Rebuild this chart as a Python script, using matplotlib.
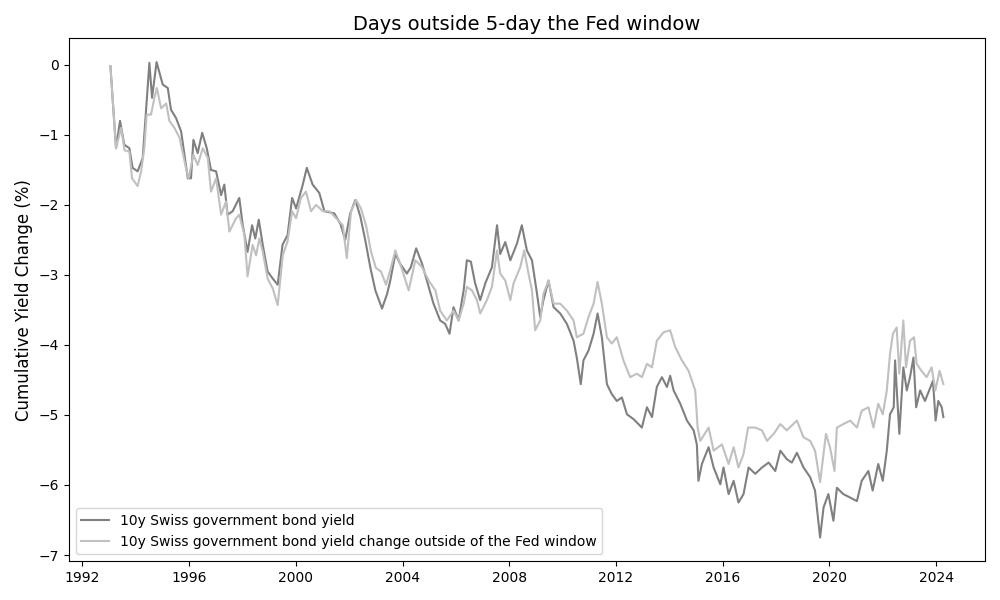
import matplotlib
matplotlib.use("Agg")
import matplotlib.pyplot as plt
from matplotlib.ticker import MultipleLocator, FormatStrFormatter

# 10y Swiss government bond yield (cumulative change, %)
yield_years = [
    1993.05, 1993.26, 1993.41, 1993.57, 1993.76, 1993.88, 1994.07, 1994.26, 1994.39, 1994.51,
    1994.61, 1994.78, 1995.01, 1995.20, 1995.32, 1995.51, 1995.70, 1995.95, 1996.07, 1996.16,
    1996.32, 1996.49, 1996.66, 1996.82, 1997.01, 1997.20, 1997.32, 1997.44, 1997.63, 1997.88,
    1998.01, 1998.19, 1998.36, 1998.48, 1998.61, 1998.76, 1998.94, 1999.13, 1999.32, 1999.50,
    1999.69, 1999.86, 2000.01, 2000.26, 2000.41, 2000.63, 2000.88, 2001.07, 2001.44, 2001.67,
    2001.85, 2002.04, 2002.23, 2002.42, 2002.60, 2002.79, 2002.98, 2003.23, 2003.42, 2003.54,
    2003.73, 2003.91, 2004.16, 2004.31, 2004.51, 2004.73, 2004.91, 2005.16, 2005.41, 2005.60,
    2005.76, 2005.91, 2006.10, 2006.29, 2006.41, 2006.56, 2006.72, 2006.91, 2007.10, 2007.35,
    2007.54, 2007.66, 2007.85, 2008.04, 2008.29, 2008.47, 2008.66, 2008.85, 2009.04, 2009.16,
    2009.28, 2009.47, 2009.66, 2009.91, 2010.16, 2010.41, 2010.53, 2010.68, 2010.78, 2010.97,
    2011.16, 2011.31, 2011.47, 2011.66, 2011.84, 2012.03, 2012.22, 2012.41, 2012.66, 2012.97,
    2013.16, 2013.35, 2013.53, 2013.72, 2013.91, 2014.03, 2014.16, 2014.41, 2014.66, 2014.91,
    2015.03, 2015.09, 2015.22, 2015.47, 2015.66, 2015.91, 2016.03, 2016.22, 2016.41, 2016.59,
    2016.78, 2016.97, 2017.22, 2017.47, 2017.72, 2017.97, 2018.16, 2018.40, 2018.59, 2018.78,
    2019.03, 2019.28, 2019.46, 2019.65, 2019.78, 2019.96, 2020.15, 2020.28, 2020.52, 2020.78,
    2021.03, 2021.21, 2021.46, 2021.62, 2021.83, 2022.00, 2022.15, 2022.27, 2022.41, 2022.46,
    2022.62, 2022.77, 2022.90, 2023.02, 2023.15, 2023.25, 2023.40, 2023.58, 2023.79, 2023.88,
    2023.98, 2024.08, 2024.21, 2024.27,
]
yield_values = [
    -0.02, -1.19, -0.80, -1.14, -1.19, -1.47, -1.52, -1.33, -0.62, 0.03,
    -0.47, 0.04, -0.28, -0.33, -0.64, -0.76, -0.95, -1.62, -1.62, -1.07,
    -1.26, -0.97, -1.19, -1.50, -1.52, -1.86, -1.71, -2.14, -2.09, -1.90,
    -2.29, -2.67, -2.29, -2.48, -2.21, -2.57, -2.95, -3.05, -3.14, -2.57,
    -2.43, -1.90, -2.05, -1.71, -1.47, -1.71, -1.83, -2.09, -2.12, -2.27,
    -2.50, -2.12, -1.93, -2.17, -2.50, -2.89, -3.22, -3.48, -3.27, -3.08,
    -2.70, -2.84, -2.98, -2.89, -2.62, -2.84, -3.08, -3.41, -3.65, -3.70,
    -3.84, -3.46, -3.65, -3.22, -2.79, -2.81, -3.12, -3.36, -3.12, -2.89,
    -2.29, -2.70, -2.53, -2.79, -2.55, -2.29, -2.65, -2.79, -3.27, -3.60,
    -3.36, -3.08, -3.46, -3.55, -3.70, -3.94, -4.18, -4.56, -4.22, -4.08,
    -3.84, -3.55, -3.89, -4.56, -4.70, -4.80, -4.75, -4.99, -5.06, -5.18,
    -4.89, -5.03, -4.60, -4.46, -4.60, -4.44, -4.65, -4.84, -5.08, -5.22,
    -5.42, -5.94, -5.70, -5.46, -5.75, -5.99, -5.75, -6.13, -5.94, -6.25,
    -6.13, -5.75, -5.84, -5.75, -5.68, -5.80, -5.51, -5.63, -5.68, -5.54,
    -5.75, -5.89, -6.08, -6.75, -6.32, -6.13, -6.51, -6.04, -6.13, -6.18,
    -6.23, -5.94, -5.80, -6.08, -5.70, -5.94, -5.51, -4.99, -4.89, -4.22,
    -5.27, -4.32, -4.65, -4.46, -4.18, -4.89, -4.65, -4.80, -4.60, -4.51,
    -5.08, -4.80, -4.89, -5.03,
]

# 10y Swiss government bond yield change outside of the Fed window (cumulative, %)
outside_years = [
    1993.05, 1993.26, 1993.45, 1993.58, 1993.76, 1993.86, 1994.07, 1994.20, 1994.32, 1994.41,
    1994.57, 1994.70, 1994.79, 1994.95, 1995.14, 1995.26, 1995.45, 1995.64, 1995.88, 1995.98,
    1996.16, 1996.32, 1996.51, 1996.70, 1996.82, 1997.01, 1997.20, 1997.38, 1997.51, 1997.76,
    1997.88, 1998.07, 1998.19, 1998.38, 1998.51, 1998.63, 1998.76, 1998.94, 1999.13, 1999.32,
    1999.51, 1999.69, 1999.86, 2000.01, 2000.19, 2000.38, 2000.57, 2000.76, 2001.01, 2001.26,
    2001.51, 2001.76, 2001.91, 2002.07, 2002.26, 2002.44, 2002.63, 2002.82, 2003.00, 2003.19,
    2003.38, 2003.54, 2003.73, 2003.91, 2004.23, 2004.48, 2004.73, 2004.98, 2005.23, 2005.41,
    2005.66, 2005.91, 2006.10, 2006.29, 2006.41, 2006.60, 2006.79, 2006.91, 2007.16, 2007.35,
    2007.54, 2007.66, 2007.85, 2008.04, 2008.16, 2008.41, 2008.56, 2008.72, 2008.85, 2008.97,
    2009.16, 2009.28, 2009.47, 2009.66, 2009.91, 2010.16, 2010.41, 2010.53, 2010.78, 2010.97,
    2011.16, 2011.31, 2011.47, 2011.66, 2011.84, 2012.03, 2012.28, 2012.53, 2012.78, 2012.97,
    2013.16, 2013.35, 2013.53, 2013.78, 2014.03, 2014.22, 2014.47, 2014.72, 2014.97, 2015.06,
    2015.16, 2015.47, 2015.66, 2015.97, 2016.22, 2016.41, 2016.59, 2016.78, 2016.95, 2017.22,
    2017.47, 2017.66, 2017.91, 2018.16, 2018.40, 2018.78, 2019.03, 2019.28, 2019.46, 2019.65,
    2019.87, 2020.02, 2020.19, 2020.28, 2020.52, 2020.78, 2021.03, 2021.21, 2021.46, 2021.65,
    2021.83, 2022.00, 2022.15, 2022.27, 2022.38, 2022.52, 2022.62, 2022.77, 2022.87, 2023.02,
    2023.17, 2023.27, 2023.45, 2023.64, 2023.83, 2023.97, 2024.13, 2024.27,
]
outside_values = [
    -0.02, -1.19, -0.90, -1.22, -1.24, -1.62, -1.73, -1.52, -1.19, -0.71,
    -0.71, -0.47, -0.33, -0.62, -0.55, -0.80, -0.90, -1.04, -1.47, -1.62,
    -1.28, -1.43, -1.19, -1.33, -1.81, -1.62, -2.14, -1.95, -2.38, -2.19,
    -2.14, -2.43, -3.02, -2.57, -2.72, -2.48, -2.67, -3.05, -3.19, -3.43,
    -2.72, -2.52, -2.09, -2.19, -1.90, -1.81, -2.09, -2.00, -2.09, -2.09,
    -2.19, -2.29, -2.76, -2.09, -1.93, -2.05, -2.29, -2.67, -2.90, -2.95,
    -3.14, -2.93, -2.65, -2.84, -3.22, -2.79, -2.89, -3.08, -3.22, -3.51,
    -3.65, -3.51, -3.65, -3.41, -3.17, -3.22, -3.36, -3.55, -3.36, -3.17,
    -2.65, -2.98, -3.08, -3.36, -3.12, -2.89, -2.65, -2.98, -3.22, -3.79,
    -3.65, -3.27, -3.08, -3.41, -3.41, -3.51, -3.65, -3.89, -3.84, -3.60,
    -3.41, -3.10, -3.41, -3.89, -3.98, -3.89, -4.22, -4.46, -4.41, -4.46,
    -4.27, -4.32, -3.94, -3.82, -3.79, -4.03, -4.22, -4.37, -4.65, -5.18,
    -5.37, -5.18, -5.51, -5.42, -5.70, -5.46, -5.75, -5.56, -5.18, -5.18,
    -5.22, -5.37, -5.27, -5.13, -5.22, -5.08, -5.32, -5.37, -5.51, -5.96,
    -5.27, -5.46, -5.80, -5.18, -5.13, -5.08, -5.18, -4.94, -4.89, -5.18,
    -4.84, -4.99, -4.65, -4.13, -3.84, -3.75, -4.41, -3.65, -4.32, -3.94,
    -3.89, -4.27, -4.37, -4.46, -4.32, -4.65, -4.37, -4.56,
]

labels = [
    "10y Swiss government bond yield",
    "10y Swiss government bond yield change outside of the Fed window",
]

fig, ax = plt.subplots(figsize=(10, 6), dpi=100)
ax.plot(yield_years, yield_values, color="gray", linewidth=1.5, label=labels[0])
ax.plot(outside_years, outside_values, color="silver", linewidth=1.5, label=labels[1])

ax.set_title("Days outside 5-day the Fed window", fontsize=14)
ax.set_ylabel("Cumulative Yield Change (%)", fontsize=12)
ax.xaxis.set_major_locator(MultipleLocator(4))
ax.xaxis.set_major_formatter(FormatStrFormatter("%d"))
ax.legend(loc="lower left")

fig.tight_layout()
fig.savefig("out.png", dpi=100)
